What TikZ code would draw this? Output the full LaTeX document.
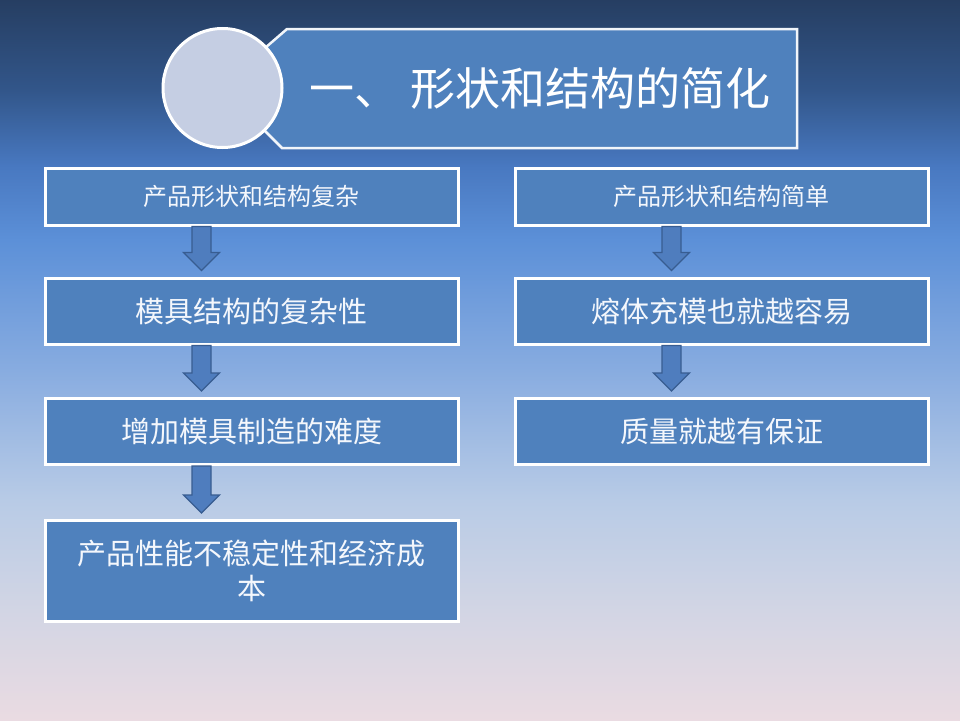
\documentclass[tikz,border=0pt]{standalone}
\usepackage{fontspec}
\newfontfamily\cjk{Noto Sans CJK SC}
\usetikzlibrary{calc}
\definecolor{bga}{RGB}{38,62,98}
\definecolor{bgb}{RGB}{50,86,138}
\definecolor{bgc}{RGB}{72,120,192}
\definecolor{bgd}{RGB}{92,144,216}
\definecolor{bge}{RGB}{136,172,224}
\definecolor{bgf}{RGB}{184,203,230}
\definecolor{bgg}{RGB}{210,213,228}
\definecolor{bgh}{RGB}{234,219,226}
\definecolor{boxblue}{RGB}{79,129,189}
\definecolor{circfill}{RGB}{197,206,227}
\definecolor{arrfill}{RGB}{79,125,190}
\definecolor{arrline}{RGB}{56,93,145}
\definecolor{txt}{RGB}{244,247,252}
\tikzset{
  flowbox/.style={draw=white, line width=3pt, fill=boxblue, text=txt,
    minimum width=413pt, inner sep=0pt, align=center, font=\cjk\fontsize{29pt}{35pt}\selectfont},
  smallbox/.style={flowbox, font=\cjk\fontsize{24pt}{28pt}\selectfont},
  blockarr/.style={fill=arrfill, draw=arrline, line width=1.3pt, line join=miter}
}
\newcommand{\blockarrow}[2]{%
  \path (#1.south west) ++(158,0) coordinate (#1-a);
  \path (#2.north west) ++(158,-6) coordinate (#2-t);
  \draw[blockarr] ($(#1-a)+(-9.5,0)$) -- ($(#2-t)+(-9.5,-18)$) -- ($(#2-t)+(-18,-18)$)
     -- (#2-t) -- ($(#2-t)+(18,-18)$) -- ($(#2-t)+(9.5,-18)$) -- ($(#1-a)+(9.5,0)$) -- cycle;
}
\begin{document}
\begin{tikzpicture}[x=1pt,y=-1pt]
\useasboundingbox (0,0) rectangle (960,720);
% background
\shade[top color=bga,bottom color=bgb] (0,-0.5) rectangle (960,90.5);
\shade[top color=bgb,bottom color=bgc] (0,90) rectangle (960,165.5);
\shade[top color=bgc,bottom color=bgd] (0,165) rectangle (960,240.5);
\shade[top color=bgd,bottom color=bge] (0,240) rectangle (960,370.5);
\shade[top color=bge,bottom color=bgf] (0,370) rectangle (960,500.5);
\shade[top color=bgf,bottom color=bgg] (0,500) rectangle (960,610.5);
\shade[top color=bgg,bottom color=bgh] (0,610) rectangle (960,720.5);
% title
\draw[fill=boxblue, draw=white!92!boxblue, line width=2.5pt, line join=miter]
  (287,29) -- (797,29) -- (797,148) -- (282,148) -- (250,116) -- (250,61) -- cycle;
\node[circle, draw=white, line width=3pt, fill=circfill, minimum size=119pt, inner sep=0pt] (C) at (222.5,88) {};
\node[text=white, font=\cjk\fontsize{45pt}{50pt}\selectfont, inner sep=0pt] (T) at (540,88) {一、 形状和结构的简化};
% left column
\node[smallbox, minimum height=57pt] (L1) at (251.5,196.5) {产品形状和结构复杂};
\node[flowbox, minimum height=66pt] (L2) at (251.5,311) {模具结构的复杂性};
\node[flowbox, minimum height=66pt] (L3) at (251.5,431.5) {增加模具制造的难度};
\node[flowbox, minimum height=101pt] (L4) at (251.5,571) {产品性能不稳定性和经济成\\本};
% right column
\node[smallbox, minimum height=57pt] (R1) at (721.5,196.5) {产品形状和结构简单};
\node[flowbox, minimum height=66pt] (R2) at (721.5,311) {熔体充模也就越容易};
\node[flowbox, minimum height=66pt] (R3) at (721.5,431.5) {质量就越有保证};
% arrows
\blockarrow{L1}{L2}
\blockarrow{L2}{L3}
\blockarrow{L3}{L4}
\blockarrow{R1}{R2}
\blockarrow{R2}{R3}
\end{tikzpicture}
\end{document}
